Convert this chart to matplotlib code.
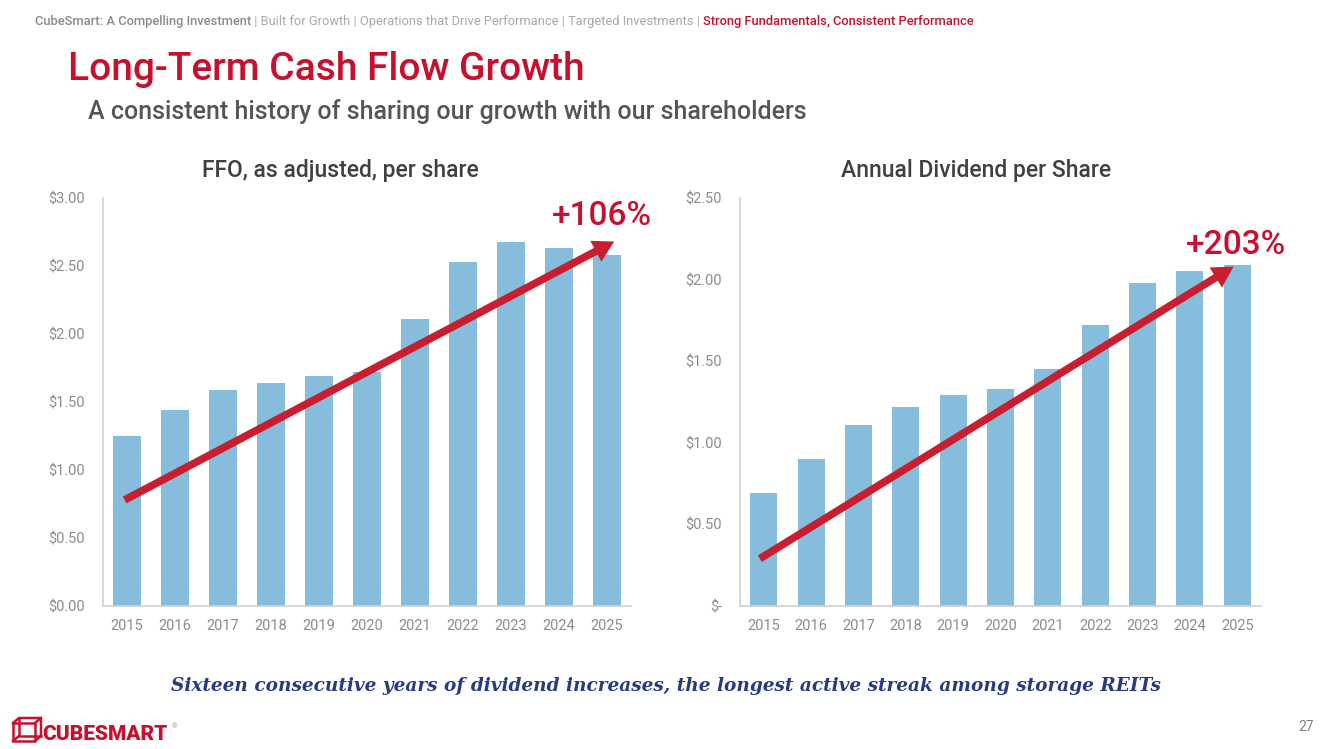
import matplotlib
matplotlib.use("Agg")
import matplotlib.pyplot as plt
from matplotlib.lines import Line2D
from matplotlib.patches import FancyArrowPatch
from matplotlib.transforms import IdentityTransform

years = ["2015", "2016", "2017", "2018", "2019", "2020", "2021", "2022", "2023", "2024", "2025"]
ffo = [1.25, 1.44, 1.59, 1.64, 1.69, 1.72, 2.11, 2.53, 2.68, 2.63, 2.58]
dividend = [0.69, 0.90, 1.11, 1.22, 1.29, 1.33, 1.45, 1.72, 1.98, 2.05, 2.09]
ffo_ticks = [0, 0.5, 1.0, 1.5, 2.0, 2.5, 3.0]
ffo_ticklabels = ["$0.00", "$0.50", "$1.00", "$1.50", "$2.00", "$2.50", "$3.00"]
div_ticks = [0, 0.5, 1.0, 1.5, 2.0, 2.5]
div_ticklabels = ["$-", "$0.50", "$1.00", "$1.50", "$2.00", "$2.50"]
ffo_trend = [(-0.05, 0.78), (10.15, 2.68)]
div_trend = [(-0.08, 0.29), (9.92, 2.08)]
ffo_growth = "+106%"
div_growth = "+203%"

RED = "#C8102E"
BAR = "#86BCDC"
ARROW = "#C81E2F"
TICK = "#8C8C8C"
SPINE = "#D0D0D0"
DARK = "#404040"

plt.rcParams['font.family'] = ['Roboto', 'DejaVu Sans']

fig = plt.figure(figsize=(13.33, 7.49), dpi=100)

def make_chart(rect, values, ticks, ticklabels, ymax, title, title_x, trend, growth, gpos):
    ax = fig.add_axes(rect)
    x = list(range(len(years)))
    ax.bar(x, values, width=0.57, color=BAR, zorder=2)
    ax.set_xlim(-0.5, len(years) - 0.5)
    ax.set_ylim(0, ymax)
    ax.set_xticks(x)
    ax.set_xticklabels(years)
    ax.set_yticks(ticks)
    ax.set_yticklabels(ticklabels)
    for s in ["top", "right"]:
        ax.spines[s].set_visible(False)
    for s in ["left", "bottom"]:
        ax.spines[s].set_color(SPINE)
        ax.spines[s].set_linewidth(1.2)
    ax.tick_params(axis="both", length=0, labelsize=10.5, colors=TICK)
    ax.tick_params(axis="y", pad=13)
    ax.tick_params(axis="x", pad=9)
    fig.text(title_x, 1 - 170/749, title, fontsize=16.5, color=DARK, fontweight="medium",
             ha="center", va="center")
    arr = FancyArrowPatch(trend[0], trend[1],
                          arrowstyle="simple,head_length=1.5,head_width=1.7,tail_width=0.55",
                          mutation_scale=10, color=ARROW, lw=0, shrinkA=0, shrinkB=0,
                          zorder=3, transform=ax.transData)
    ax.add_patch(arr)
    ax.text(gpos[0], gpos[1], growth, fontsize=24, color=RED, fontweight="medium",
            ha="center", va="center", clip_on=False, zorder=4)
    return ax

make_chart([0.0773, 0.1909, 0.3961, 0.5447], ffo, ffo_ticks, ffo_ticklabels, 3.0,
           "FFO, as adjusted, per share", 340/1333, ffo_trend, ffo_growth, (9.9, 2.87))
make_chart([0.5551, 0.1909, 0.3909, 0.5447], dividend, div_ticks, div_ticklabels, 2.5,
           "Annual Dividend per Share", 976/1333, div_trend, div_growth, (9.98, 2.21))

# Header breadcrumb
t1 = fig.text(35/1333, 1 - 25/749, "CubeSmart: A Compelling Investment", fontsize=9.25,
              color="#8A8A8A", fontweight="medium", va="baseline", ha="left")
t2 = fig.text(0, 0, " | Built for Growth | Operations that Drive Performance | Targeted Investments | ",
              fontsize=9.25, color="#A8A8A8", va="baseline", ha="left")
t3 = fig.text(0, 0, "Strong Fundamentals, Consistent Performance", fontsize=9.25,
              color=RED, fontweight="medium", va="baseline", ha="left")
fig.canvas.draw()
r = fig.canvas.get_renderer()
def chain(prev, nxt):
    bb = prev.get_window_extent(r)
    x0, y0 = prev.get_transform().transform(prev.get_position())
    nxt.set_transform(IdentityTransform())
    nxt.set_position((bb.x1, y0))
chain(t1, t2)
fig.canvas.draw()
chain(t2, t3)

# Title and subtitle
fig.text(68/1333, 1 - 70/749, "Long-Term Cash Flow Growth", fontsize=28, color=RED,
         fontweight="medium", va="center", ha="left")
fig.text(88/1333, 1 - 112/749, "A consistent history of sharing our growth with our shareholders",
         fontsize=18, color="#555555", fontweight="medium", va="center", ha="left")

# Slogan
fig.text(666/1333, 1 - 686/749,
         "Sixteen consecutive years of dividend increases, the longest active streak among storage REITs",
         fontsize=13.3, color="#263C82", fontweight="bold", fontstyle="italic",
         family=["DejaVu Serif"], va="center", ha="center")

# Logo
lx0, ly0, s = 13, 719, 22
def L(xs, ys):
    fig.add_artist(Line2D([x/1333 for x in xs], [1 - y/749 for y in ys], color=RED, lw=1.8,
                          transform=fig.transFigure))
L([lx0, lx0 + s, lx0 + s, lx0, lx0], [ly0 + 4, ly0 + 4, ly0 + s, ly0 + s, ly0 + 4])
L([lx0, lx0 + 6, lx0 + s + 6, lx0 + s], [ly0 + 4, ly0 - 1, ly0 - 1, ly0 + 4])
L([lx0 + s, lx0 + s + 6, lx0 + s + 6], [ly0 + s, ly0 + s - 5, ly0 - 1])
L([lx0 + 6, lx0 + 6, lx0 + s + 6], [ly0 - 1, ly0 + s - 5, ly0 + s - 5])
L([lx0 + 6, lx0], [ly0 + s - 5, ly0 + s])
fig.text(42/1333, 1 - 740/749, "CUBESMART", fontsize=15, color=RED, fontweight="black",
         family=["Roboto", "DejaVu Sans"], va="baseline", ha="left")
fig.text(172/1333, 1 - 727/749, "®", fontsize=5, color="#999999", va="center", ha="left")

# Page number
fig.text(1306/1333, 1 - 727/749, "27", fontsize=10, color="#808080", va="center", ha="center")

fig.savefig("out.png", dpi=100)
